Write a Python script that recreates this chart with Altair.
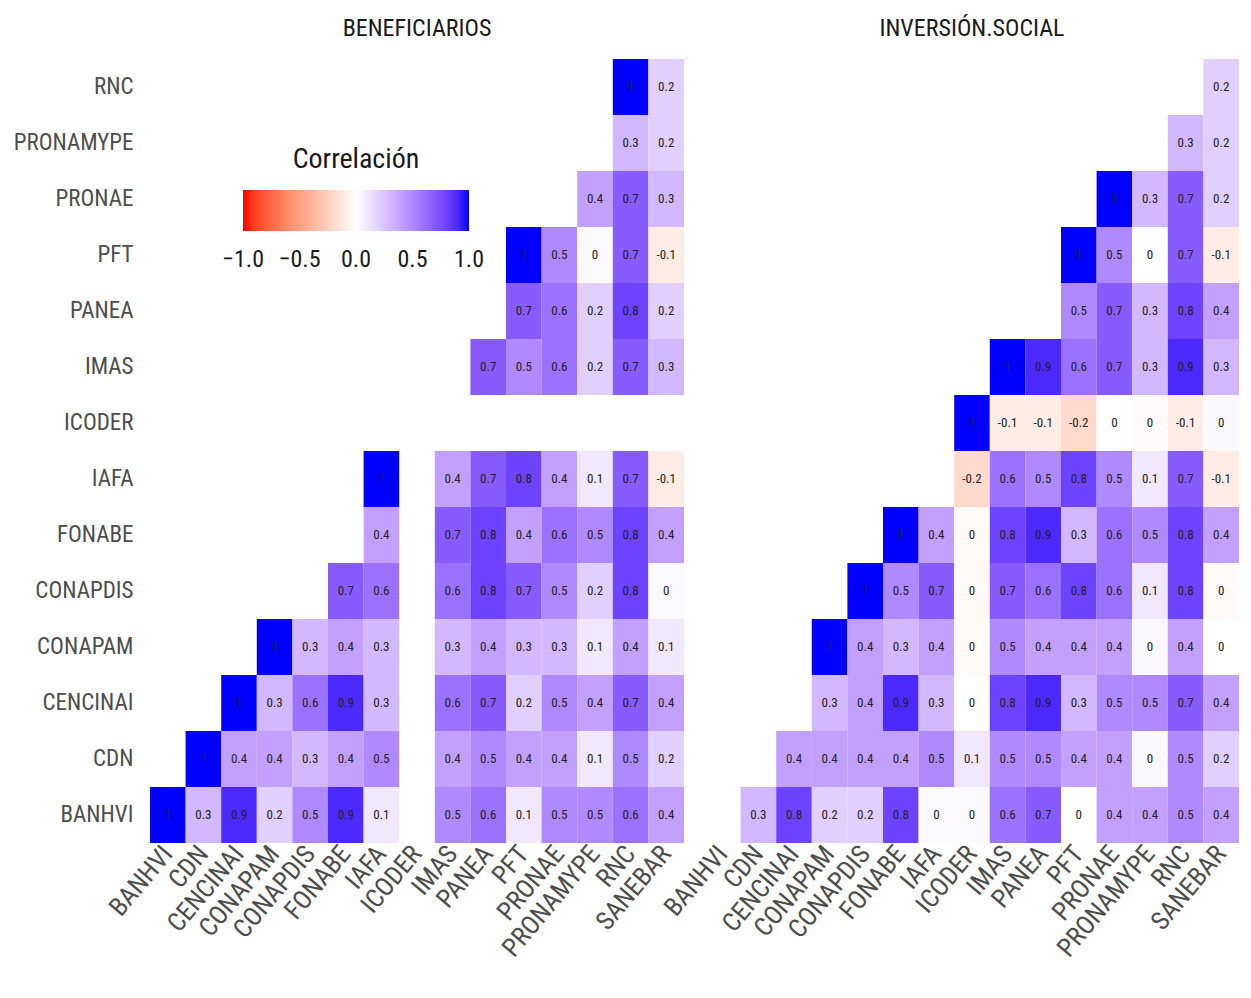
import altair as alt
import pandas as pd

N = None
cols = ["BANHVI", "CDN", "CENCINAI", "CONAPAM", "CONAPDIS", "FONABE", "IAFA", "ICODER",
        "IMAS", "PANEA", "PFT", "PRONAE", "PRONAMYPE", "RNC", "SANEBAR"]
rows = ["BANHVI", "CDN", "CENCINAI", "CONAPAM", "CONAPDIS", "FONABE", "IAFA", "ICODER",
        "IMAS", "PANEA", "PFT", "PRONAE", "PRONAMYPE", "RNC"]
panels = ["BENEFICIARIOS", "INVERSIÓN.SOCIAL"]
legend_ticks = [-0.9999, -0.5, 0, 0.5, 0.9999]

# values per row, aligned with cols (None = empty cell)
ben = {
    "BANHVI":    [1, .3, .9, .2, .5, .9, .1, N, .5, .6, .1, .5, .5, .6, .4],
    "CDN":       [N, 1, .4, .4, .3, .4, .5, N, .4, .5, .4, .4, .1, .5, .2],
    "CENCINAI":  [N, N, 1, .3, .6, .9, .3, N, .6, .7, .2, .5, .4, .7, .4],
    "CONAPAM":   [N, N, N, 1, .3, .4, .3, N, .3, .4, .3, .3, .1, .4, .1],
    "CONAPDIS":  [N, N, N, N, N, .7, .6, N, .6, .8, .7, .5, .2, .8, .02],
    "FONABE":    [N, N, N, N, N, N, .4, N, .7, .8, .4, .6, .5, .8, .4],
    "IAFA":      [N, N, N, N, N, N, 1, N, .4, .7, .8, .4, .1, .7, -.1],
    "ICODER":    [N] * 15,
    "IMAS":      [N, N, N, N, N, N, N, N, N, .7, .5, .6, .2, .7, .3],
    "PANEA":     [N, N, N, N, N, N, N, N, N, N, .7, .6, .2, .8, .2],
    "PFT":       [N, N, N, N, N, N, N, N, N, N, 1, .5, .02, .7, -.1],
    "PRONAE":    [N, N, N, N, N, N, N, N, N, N, N, N, .4, .7, .3],
    "PRONAMYPE": [N, N, N, N, N, N, N, N, N, N, N, N, N, .3, .2],
    "RNC":       [N, N, N, N, N, N, N, N, N, N, N, N, N, 1, .2],
}
inv = {
    "BANHVI":    [N, .3, .8, .2, .2, .8, .02, .02, .6, .7, .0, .4, .4, .5, .4],
    "CDN":       [N, N, .4, .4, .4, .4, .5, .1, .5, .5, .4, .4, .03, .5, .2],
    "CENCINAI":  [N, N, N, .3, .4, .9, .3, .0, .8, .9, .3, .5, .5, .7, .4],
    "CONAPAM":   [N, N, N, 1, .4, .3, .4, -.03, .5, .4, .4, .4, .03, .4, .0],
    "CONAPDIS":  [N, N, N, N, 1, .5, .7, -.03, .7, .6, .8, .6, .1, .8, -.03],
    "FONABE":    [N, N, N, N, N, 1, .4, -.03, .8, .9, .3, .6, .5, .8, .4],
    "IAFA":      [N, N, N, N, N, N, N, -.2, .6, .5, .8, .5, .1, .7, -.1],
    "ICODER":    [N, N, N, N, N, N, N, 1, -.1, -.1, -.2, .0, -.02, -.1, .03],
    "IMAS":      [N, N, N, N, N, N, N, N, 1, .9, .6, .7, .3, .9, .3],
    "PANEA":     [N, N, N, N, N, N, N, N, N, N, .5, .7, .3, .8, .4],
    "PFT":       [N, N, N, N, N, N, N, N, N, N, 1, .5, .0, .7, -.1],
    "PRONAE":    [N, N, N, N, N, N, N, N, N, N, N, 1, .3, .7, .2],
    "PRONAMYPE": [N, N, N, N, N, N, N, N, N, N, N, N, N, .3, .2],
    "RNC":       [N, N, N, N, N, N, N, N, N, N, N, N, N, N, .2],
}


def lab(v):
    s = f"{round(v, 1):g}"
    return "0" if s == "-0" else s


records = []
for pname, mat in zip(panels, [ben, inv]):
    for r in rows:
        for c, v in zip(cols, mat[r]):
            if v is not None:
                records.append({"panel": pname, "fila": r, "col": c, "valor": v, "lab": lab(v)})
df = pd.DataFrame(records)

FONT = "Liberation Sans Narrow, Arial Narrow, Roboto Condensed, Liberation Sans, sans-serif"

x = alt.X("col:N", sort=cols, title=None,
          scale=alt.Scale(paddingInner=0, paddingOuter=0),
          axis=alt.Axis(labelAngle=-50, labelPadding=6, labelFontSize=26))
y = alt.Y("fila:N", sort=rows[::-1], title=None,
          scale=alt.Scale(paddingInner=0, paddingOuter=0),
          axis=alt.Axis(labelPadding=17, labelFontSize=23))

rect = alt.Chart().mark_rect().encode(
    x=x, y=y,
    color=alt.Color("valor:Q",
                    scale=alt.Scale(domain=[-1, 0, 1], range=["#ff0000", "#ffffff", "#0000ff"],
                                    interpolate="lab"),
                    legend=alt.Legend(title="Correlación", orient="none", legendX=93, legendY=87,
                                      direction="horizontal", gradientLength=226,
                                      gradientThickness=41, titleFontSize=28, titleFont=FONT,
                                      titleFontWeight="normal", titleAnchor="middle",
                                      titlePadding=16, titleColor="#1a1a1a",
                                      labelFontSize=24, labelFont=FONT, labelColor="#1a1a1a",
                                      labelAlign="center", labelOffset=17, labelOverlap=False,
                                      values=legend_ticks, format=".1f")),
)
text = alt.Chart().mark_text(font=FONT, fontSize=13, color="#222222").encode(
    x=x, y=y, text="lab:N"
)

chart = alt.layer(rect, text, data=df).properties(width=534, height=784).facet(
    column=alt.Column("panel:N", sort=panels, title=None,
                      header=alt.Header(labelFontSize=24, labelFont=FONT, labelColor="#1a1a1a",
                                        labelPadding=18)),
    spacing=21,
).configure_view(strokeWidth=0).configure_axis(
    ticks=False, domain=False, grid=False, labelFont=FONT, labelColor="#4d4d4d"
).properties(padding={"left": 5, "top": 9, "right": 0, "bottom": 0})

chart.save("out.html", embed_options={"renderer": "svg", "actions": False})
